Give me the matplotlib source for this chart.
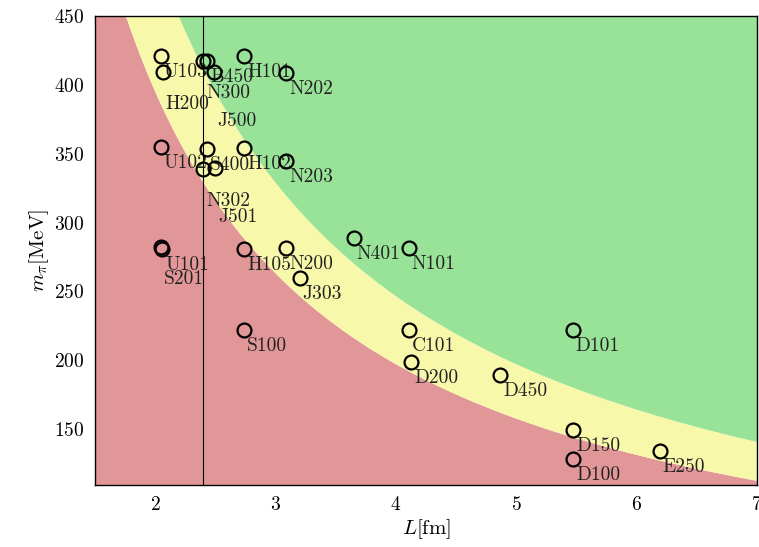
import numpy as np
import matplotlib
matplotlib.use("Agg")
import matplotlib.pyplot as plt

plt.rcParams['mathtext.fontset'] = 'cm'
plt.rcParams['font.family'] = ['cmr10', 'DejaVu Serif']
plt.rcParams['axes.formatter.use_mathtext'] = True

hbarc = 197.327  # MeV fm

# ensembles: name, L [fm], m_pi [MeV]
names = ["U103", "H200", "B450", "N300", "J500", "H101", "N202",
         "U102", "S400", "N302", "J501", "H102", "N203",
         "S201", "U101", "H105", "N200", "J303", "N401", "N101",
         "S100", "C101", "D200", "D450", "D101", "D150", "D100", "E250"]
L_fm = [2.045, 2.062, 2.43, 2.40, 2.49, 2.737, 3.09,
        2.045, 2.43, 2.40, 2.496, 2.737, 3.09,
        2.045, 2.06, 2.737, 3.09, 3.20, 3.65, 4.106,
        2.737, 4.106, 4.128, 4.867, 5.47, 5.475, 5.475, 6.19]
m_pi = [421.2, 409.1, 417.0, 417.0, 409.0, 421.2, 408.8,
        354.6, 353.2, 338.7, 339.4, 354.4, 344.7,
        282.0, 281.0, 280.8, 281.7, 259.5, 289.0, 281.3,
        222.0, 222.0, 198.5, 189.3, 222.0, 149.3, 128.3, 134.1]
# how far down each label is pushed (0 = next to the point)
drop = [0, 1, 0, 1, 2, 0, 0,
        0, 0, 1, 2, 0, 0,
        1, 0, 0, 0, 0, 0, 0,
        0, 0, 0, 0, 0, 0, 0, 0]

mL_cuts = [4, 5]

fig = plt.figure(figsize=(7.59, 5.47), dpi=100)
ax = fig.add_axes([0.1252, 0.1133, 0.8722, 0.8574])

xmin, xmax = 1.5, 7.0
ymin, ymax = 109.4, 450.0
x = np.linspace(xmin, xmax, 400)
low = np.clip(mL_cuts[0] * hbarc / x, ymin, ymax)
high = np.clip(mL_cuts[1] * hbarc / x, ymin, ymax)
ax.fill_between(x, ymin, low, color="#e19797", lw=0, zorder=0)
ax.fill_between(x, low, high, color="#f8f8aa", lw=0, zorder=0)
ax.fill_between(x, high, ymax, color="#99e399", lw=0, zorder=0)

ax.axvline(2.4, color="black", lw=0.8, zorder=1)

drop_px = [7, 23, 40]
for n, lx, my, d in zip(names, L_fm, m_pi, drop):
    ax.annotate(n, (lx, my), xytext=(3, -drop_px[d]), textcoords="offset pixels",
                ha="left", va="top", fontsize=14, color="#222222", zorder=2)

ax.plot(L_fm, m_pi, "o", ms=10, mfc="none", mec="black", mew=1.6, zorder=3)

ax.set_xlim(xmin, xmax)
ax.set_ylim(ymin, ymax)
ax.set_xticks([2, 3, 4, 5, 6, 7])
ax.set_yticks([150, 200, 250, 300, 350, 400, 450])
ax.tick_params(length=0, labelsize=14, pad=8)
ax.set_xlabel(r"$L[\mathrm{fm}]$", fontsize=15, labelpad=2)
ax.set_ylabel(r"$m_\pi[\mathrm{MeV}]$", fontsize=15, labelpad=2)
for s in ax.spines.values():
    s.set_linewidth(1.0)

fig.savefig("out.png", dpi=100)
